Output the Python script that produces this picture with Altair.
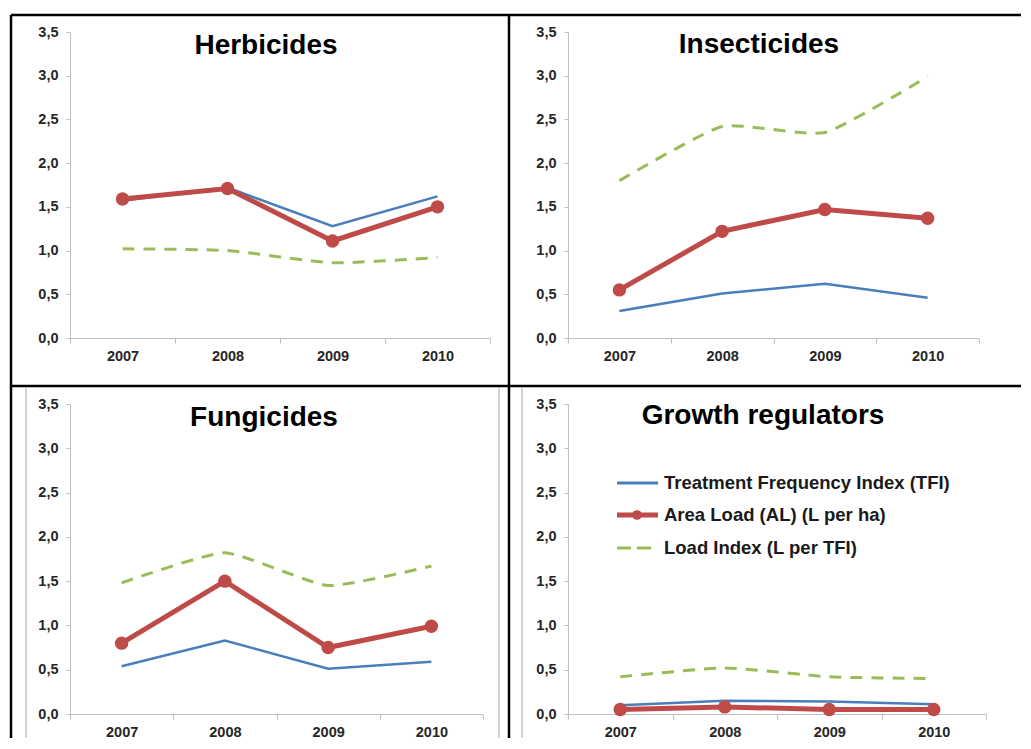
import altair as alt
import pandas as pd

years = ["2007", "2008", "2009", "2010"]
panel_names = ["Herbicides", "Insecticides", "Fungicides", "Growth regulators"]

tfi_herb = [1.57, 1.72, 1.28, 1.62]
tfi_insect = [0.31, 0.51, 0.62, 0.46]
tfi_fung = [0.54, 0.83, 0.51, 0.59]
tfi_growth = [0.10, 0.15, 0.14, 0.11]

al_herb = [1.59, 1.71, 1.11, 1.50]
al_insect = [0.55, 1.22, 1.47, 1.37]
al_fung = [0.80, 1.50, 0.75, 0.99]
al_growth = [0.05, 0.08, 0.05, 0.05]

li_herb = [1.02, 1.00, 0.86, 0.92]
li_insect = [1.80, 2.42, 2.35, 2.99]
li_fung = [1.48, 1.82, 1.45, 1.67]
li_growth = [0.42, 0.52, 0.42, 0.40]

y_ticks = [0.0, 0.5, 1.0, 1.5, 2.0, 2.5, 3.0, 3.5]
legend_labels = ["Treatment Frequency Index (TFI)", "Area Load (AL) (L per ha)", "Load Index (L per TFI)"]

FONT = "Liberation Sans"
BLUE = "#4a7ebb"
RED = "#be4b48"
GREEN = "#9bbb59"

series = {
    "Herbicides": (tfi_herb, al_herb, li_herb),
    "Insecticides": (tfi_insect, al_insect, li_insect),
    "Fungicides": (tfi_fung, al_fung, li_fung),
    "Growth regulators": (tfi_growth, al_growth, li_growth),
}

one = pd.DataFrame({"d": [0]})


def xenc():
    return alt.X(
        "year:O",
        scale=alt.Scale(type="band", domain=years, paddingInner=0, paddingOuter=0),
        bandPosition=0.5,
        axis=alt.Axis(title=None, labelAngle=0, tickBand="extent", tickSize=5, labelPadding=6),
    )


def yenc():
    return alt.Y(
        "value:Q",
        scale=alt.Scale(domain=[0, 3.5], nice=False, zero=True),
        axis=alt.Axis(
            title=None,
            values=y_ticks,
            tickSize=4,
            labelPadding=8,
            labelExpr="replace(format(datum.value, '.1f'), '.', ',')",
        ),
    )


def hrule(x1, x2, yv, color="black", w=2.5):
    return alt.Chart(one).mark_rule(color=color, strokeWidth=w).encode(
        x=alt.value(x1), x2=alt.value(x2), y=alt.value(yv)
    )


def vrule(xv, y1, y2, color="black", w=2.5):
    return alt.Chart(one).mark_rule(color=color, strokeWidth=w).encode(
        x=alt.value(xv), y=alt.value(y1), y2=alt.value(y2)
    )


def panel(name, width, height, tx, ty, extras):
    tfi, al, li = series[name]
    df_tfi = pd.DataFrame({"year": years, "value": tfi})
    df_al = pd.DataFrame({"year": years, "value": al})
    df_li = pd.DataFrame({"year": years, "value": li})
    green = alt.Chart(df_li).mark_line(
        color=GREEN, strokeWidth=3, strokeDash=[12, 9], interpolate="cardinal", tension=0.5
    ).encode(x=xenc(), y=yenc())
    blue = alt.Chart(df_tfi).mark_line(color=BLUE, strokeWidth=2.5).encode(x=xenc(), y=yenc())
    red_line = alt.Chart(df_al).mark_line(color=RED, strokeWidth=5).encode(x=xenc(), y=yenc())
    red_pts = alt.Chart(df_al).mark_point(
        filled=True, size=180, color=RED, opacity=1, shape="circle"
    ).encode(x=xenc(), y=yenc())
    title = alt.Chart(pd.DataFrame({"t": [name]})).mark_text(
        font=FONT, fontSize=28, fontWeight="bold", color="black", align="center", baseline="alphabetic"
    ).encode(text="t:N", x=alt.value(tx), y=alt.value(ty))
    return alt.layer(green, blue, red_line, red_pts, title, *extras).properties(width=width, height=height)


# frame lines of the table (relative to first panel's plot origin)
frame = [
    hrule(-59, 951, -17),
    hrule(-59, 951, 354),
    vrule(-59, -17, 706),
    vrule(439, -17, 706),
]

# thin chart-area borders in bottom row (relative to third panel's plot origin)
inner = [
    vrule(-44, -17, 334, color="#a6a6a6", w=1),
    vrule(429, -17, 334, color="#a6a6a6", w=1),
    vrule(452, -17, 334, color="#a6a6a6", w=1),
]

# legend in the growth regulators panel
leg_text_style = dict(font=FONT, fontSize=18.5, fontWeight="bold", color="#1a1a1a", align="left", baseline="middle")
legend = [
    hrule(49, 90, 79, color=BLUE, w=3),
    alt.Chart(pd.DataFrame({"t": [legend_labels[0]]})).mark_text(**leg_text_style).encode(
        text="t:N", x=alt.value(96), y=alt.value(79)
    ),
    hrule(49, 90, 111, color=RED, w=5),
    alt.Chart(one).mark_point(filled=True, size=95, color=RED, opacity=1, shape="circle").encode(
        x=alt.value(69), y=alt.value(111)
    ),
    alt.Chart(pd.DataFrame({"t": [legend_labels[1]]})).mark_text(**leg_text_style).encode(
        text="t:N", x=alt.value(96), y=alt.value(111)
    ),
    alt.Chart(one).mark_rule(color=GREEN, strokeWidth=3, strokeDash=[14, 6]).encode(
        x=alt.value(49), x2=alt.value(83), y=alt.value(144)
    ),
    alt.Chart(pd.DataFrame({"t": [legend_labels[2]]})).mark_text(**leg_text_style).encode(
        text="t:N", x=alt.value(96), y=alt.value(144)
    ),
]

p1 = panel("Herbicides", 420, 306, 196, 22, frame)
p2 = panel("Insecticides", 411, 306, 191, 21, [])
p3 = panel("Fungicides", 413, 310, 194, 22, inner)
p4 = panel("Growth regulators", 418, 310, 195, 20, legend)

chart = (
    alt.concat(p1, p2, p3, p4, columns=2, spacing={"row": 66, "column": 78}, bounds="flush")
    .properties(padding={"left": 1, "top": 5, "right": 0, "bottom": 0}, background="white")
    .configure_view(strokeWidth=0)
    .configure_axis(
        grid=False,
        domainColor="#bfbfbf",
        tickColor="#bfbfbf",
        domainWidth=1,
        tickWidth=1,
        labelFont=FONT,
        labelFontSize=14.5,
        labelFontWeight="bold",
        labelColor="#262626",
    )
)

chart.save("out.html", embed_options={"renderer": "svg", "actions": False})
